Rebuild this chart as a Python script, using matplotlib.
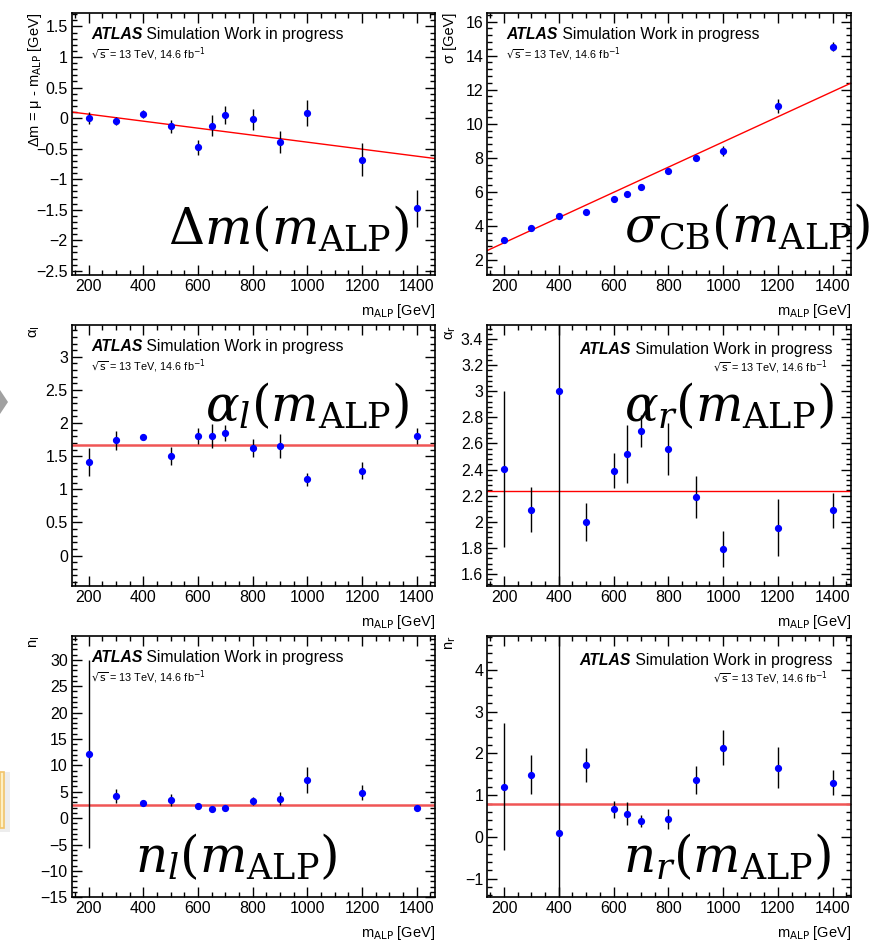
import matplotlib
matplotlib.use('Agg')
import matplotlib.pyplot as plt
from matplotlib.ticker import MultipleLocator, FuncFormatter
from matplotlib.patches import Polygon, Rectangle
import numpy as np

plt.rcParams['font.family'] = ['Liberation Sans', 'DejaVu Sans']
plt.rcParams['mathtext.fontset'] = 'dejavusans'
plt.rcParams['axes.unicode_minus'] = True

# ---------------- data ----------------
m_alp = [200, 300, 400, 500, 600, 650, 700, 800, 900, 1000, 1200, 1400]

dm_val = [0.0, -0.05, 0.065, -0.135, -0.48, -0.125, 0.05, -0.02, -0.385, 0.087, -0.685, -1.48]
dm_err = [0.10, 0.07, 0.07, 0.11, 0.12, 0.17, 0.15, 0.17, 0.18, 0.215, 0.27, 0.30]
dm_fit = (0.178, -0.000573)          # intercept, slope

sig_val = [3.19, 3.86, 4.60, 4.80, 5.60, 5.88, 6.29, 7.25, 7.99, 8.40, 11.05, 14.53]
sig_err = [0.1, 0.1, 0.1, 0.1, 0.1, 0.1, 0.1, 0.12, 0.15, 0.3, 0.4, 0.25]
sig_fit = (1.53, 0.0074)

al_val = [1.41, 1.74, 1.79, 1.50, 1.80, 1.80, 1.85, 1.62, 1.65, 1.15, 1.28, 1.81]
al_err = [0.21, 0.14, 0.03, 0.14, 0.12, 0.18, 0.12, 0.14, 0.18, 0.10, 0.13, 0.12]
al_fit = (1.673, 0.0)

ar_val = [2.404, 2.093, 3.0, 2.00, 2.39, 2.52, 2.695, 2.555, 2.19, 1.79, 1.955, 2.088]
ar_err = [0.60, 0.17, 5.0, 0.147, 0.135, 0.22, 0.12, 0.20, 0.16, 0.14, 0.22, 0.133]
ar_fit = (2.233, 0.0)

nl_val = [12.23, 4.2, 2.8, 3.45, 2.3, 1.8, 1.86, 3.26, 3.7, 7.3, 4.84, 1.93]
nl_err = [17.8, 1.3, 0.3, 1.1, 0.5, 0.4, 0.3, 0.8, 1.25, 2.45, 1.35, 0.2]
nl_fit = (2.56, 0.0)

nr_val = [1.204, 1.49, 0.088, 1.715, 0.66, 0.56, 0.38, 0.43, 1.356, 2.137, 1.66, 1.30]
nr_err = [1.52, 0.47, 10.0, 0.41, 0.2, 0.27, 0.15, 0.24, 0.34, 0.42, 0.5, 0.3]
nr_fit = (0.80, 0.0)

ylabels = ['Δm = μ - m$_{\\mathrm{ALP}}$ [GeV]', 'σ [GeV]',
           'α$_{\\mathrm{l}}$', 'α$_{\\mathrm{r}}$',
           'n$_{\\mathrm{l}}$', 'n$_{\\mathrm{r}}$']
big_labels = [r'$\Delta m(m_{\mathrm{ALP}})$', r'$\sigma_{\mathrm{CB}}(m_{\mathrm{ALP}})$',
              r'$\alpha_l(m_{\mathrm{ALP}})$', r'$\alpha_r(m_{\mathrm{ALP}})$',
              r'$n_l(m_{\mathrm{ALP}})$', r'$n_r(m_{\mathrm{ALP}})$']
xlabel = r'm$_{\mathrm{ALP}}$ [GeV]'
atlas_bold = 'ATLAS'
atlas_rest = ' Simulation Work in progress'
energy_text = r'$\sqrt{\mathrm{s}}$ = 13 TeV, 14.6 fb$^{-1}$'

series = [(dm_val, dm_err, dm_fit), (sig_val, sig_err, sig_fit),
          (al_val, al_err, al_fit), (ar_val, ar_err, ar_fit),
          (nl_val, nl_err, nl_fit), (nr_val, nr_err, nr_fit)]

# ---------------- layout / style ----------------
W, H = 869, 942
fig = plt.figure(figsize=(W / 100, H / 100), dpi=100)
fig.patch.set_facecolor('white')

cols = [(72, 435), (487.3, 851)]
rows = [(13, 275), (325, 586), (635.5, 897.3)]
ylims = [(-2.57, 1.72), (1.12, 16.5), (-0.46, 3.48), (1.508, 3.507), (-15, 34.6), (-1.45, 4.83)]
ymajor = [0.5, 2, 0.5, 0.2, 5, 1]
xlim = (139, 1467)
fit_lw = [1.0, 1.0, 1.8, 1.0, 1.8, 1.8]
fit_col = ['#ff0000', '#ff0000', '#f05555', '#ff0000', '#f05555', '#f05555']
big_pos = [(0.598, 0.176), (0.715, 0.183), (0.647, 0.69), (0.663, 0.69), (0.452, 0.154), (0.66, 0.154)]
right_aligned = [False, False, False, True, False, True]


def root_fmt(v, pos):
    s = '{:g}'.format(round(v, 6))
    if s == '-0':
        s = '0'
    return s.replace('-', '\u2212')


for i, (vals, errs, fit) in enumerate(series):
    r, c = divmod(i, 2)
    x0, x1 = cols[c]
    yt, yb = rows[r]
    ax = fig.add_axes([x0 / W, 1 - yb / H, (x1 - x0) / W, (yb - yt) / H])
    ax.set_xlim(*xlim)
    ax.set_ylim(*ylims[i])

    xs = np.array(xlim, dtype=float)
    ax.plot(xs, fit[0] + fit[1] * xs, color=fit_col[i], lw=fit_lw[i], zorder=2)
    ax.errorbar(m_alp, vals, yerr=errs, fmt='o', color='#0000ff', ms=4.2,
                ecolor='black', elinewidth=1.0, capsize=0, zorder=3)

    ax.xaxis.set_major_locator(MultipleLocator(200))
    ax.xaxis.set_minor_locator(MultipleLocator(50))
    ax.yaxis.set_major_locator(MultipleLocator(ymajor[i]))
    ax.yaxis.set_minor_locator(MultipleLocator(ymajor[i] / 5))
    ax.xaxis.set_major_formatter(FuncFormatter(root_fmt))
    ax.yaxis.set_major_formatter(FuncFormatter(root_fmt))
    ax.tick_params(which='both', direction='in', top=True, right=True, labelsize=11.5,
                   width=1.0, colors='black', pad=3)
    ax.tick_params(which='major', length=7)
    ax.tick_params(which='minor', length=3.5)
    for s in ax.spines.values():
        s.set_linewidth(1.2)

    # ATLAS label
    if not right_aligned[i]:
        t1 = ax.text(0.052, 0.90, atlas_bold, transform=ax.transAxes, fontsize=11.3,
                     fontweight='bold', fontstyle='italic', va='baseline', ha='left')
        ax.annotate(atlas_rest, xy=(1, 0), xycoords=t1, fontsize=11.3, va='bottom', ha='left')
        ax.text(0.052, 0.826, energy_text, transform=ax.transAxes, fontsize=7.8,
                va='baseline', ha='left')
    else:
        t2 = ax.text(0.948, 0.888, atlas_rest, transform=ax.transAxes, fontsize=11.3,
                     va='baseline', ha='right')
        ax.annotate(atlas_bold, xy=(0, 0), xycoords=t2, fontsize=11.3, fontweight='bold',
                    fontstyle='italic', va='bottom', ha='right')
        ax.text(0.935, 0.822, energy_text, transform=ax.transAxes, fontsize=7.8,
                va='baseline', ha='right')

    # big overlay label
    ax.text(big_pos[i][0], big_pos[i][1], big_labels[i], transform=ax.transAxes,
            fontsize=36, math_fontfamily='dejavuserif', ha='center', va='center', zorder=10,
            clip_on=False)

    # axis titles
    fig.text(x1 / W, 1 - (yb + 36) / H, xlabel, ha='right', va='center', fontsize=10.5)
    fig.text((x0 - 37) / W, 1 - yt / H, ylabels[i], rotation=90, ha='center', va='top',
             fontsize=10.5)

# left-edge artifacts (cropped slide elements)
arrow = Polygon([[0, 1 - 390 / H], [8 / W, 1 - 402 / H], [0, 1 - 414 / H]],
                closed=True, transform=fig.transFigure, facecolor='#8a8a8a',
                edgecolor='none', alpha=0.8)
fig.patches.append(arrow)
shadow = Rectangle((0, 1 - 832 / H), 10 / W, 60 / H, transform=fig.transFigure,
                   facecolor='#e2e2e2', edgecolor='none', alpha=0.6)
fig.patches.append(shadow)
box = Rectangle((0, 1 - 828 / H), 4 / W, 56 / H, transform=fig.transFigure,
                facecolor='#fdf0c4', edgecolor='#f2c46a', lw=1.2)
fig.patches.append(box)

fig.savefig('out.png', dpi=100)
